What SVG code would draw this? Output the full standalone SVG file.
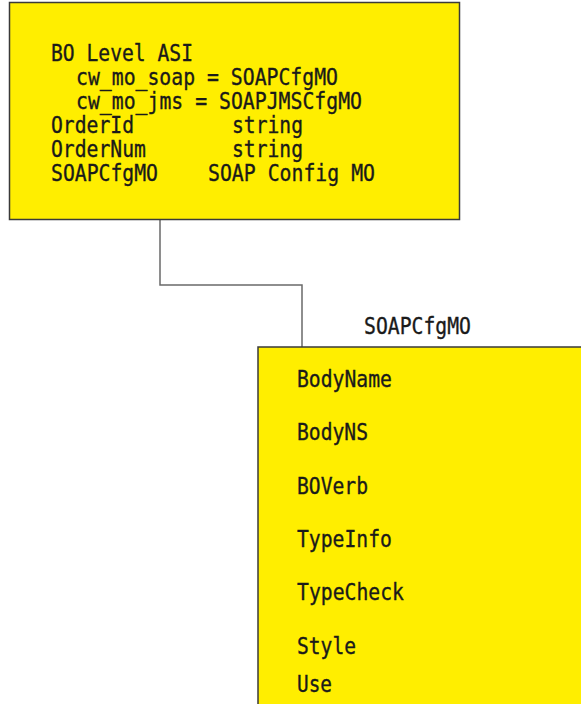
<svg xmlns="http://www.w3.org/2000/svg" width="581" height="704" viewBox="0 0 581 704">
  <style>
    .box { fill: #FFEE00; stroke: #3a3a3a; stroke-width: 1.5; }
    .t { font-family: "DejaVu Sans Mono", "Liberation Mono", monospace; font-size: 23px; fill: #1a1a1a; stroke: #1a1a1a; stroke-width: 0.35; }
    .conn { fill: none; stroke: #6a6a6a; stroke-width: 1.5; }
  </style>

  <!-- connectors -->
  <g id="connectors">
    <polyline class="conn" points="160,220 160,285 302,285 302,348"/>
  </g>

  <!-- application-specific info of the business object -->
  <g id="bo-node">
    <rect class="box" x="9.5" y="2.5" width="450" height="217"/>
    <text class="t" x="51" y="61" textLength="142" lengthAdjust="spacingAndGlyphs">BO Level ASI</text>
    <text class="t" x="76" y="85" textLength="262" lengthAdjust="spacingAndGlyphs">cw_mo_soap = SOAPCfgMO</text>
    <text class="t" x="76" y="109" textLength="286" lengthAdjust="spacingAndGlyphs">cw_mo_jms = SOAPJMSCfgMO</text>
    <text class="t" x="51" y="133" textLength="83" lengthAdjust="spacingAndGlyphs">OrderId</text>
    <text class="t" x="232" y="133" textLength="71" lengthAdjust="spacingAndGlyphs">string</text>
    <text class="t" x="51" y="157" textLength="95" lengthAdjust="spacingAndGlyphs">OrderNum</text>
    <text class="t" x="232" y="157" textLength="71" lengthAdjust="spacingAndGlyphs">string</text>
    <text class="t" x="51" y="181" textLength="107" lengthAdjust="spacingAndGlyphs">SOAPCfgMO</text>
    <text class="t" x="208" y="181" textLength="167" lengthAdjust="spacingAndGlyphs">SOAP Config MO</text>
  </g>

  <!-- SOAP configuration meta-object -->
  <g id="soapcfgmo-node">
    <text class="t" x="364" y="334" textLength="107" lengthAdjust="spacingAndGlyphs">SOAPCfgMO</text>
    <rect class="box" x="258" y="347" width="330" height="370"/>
    <text class="t" x="297" y="387" textLength="95" lengthAdjust="spacingAndGlyphs">BodyName</text>
    <text class="t" x="297" y="440" textLength="71" lengthAdjust="spacingAndGlyphs">BodyNS</text>
    <text class="t" x="297" y="494" textLength="71" lengthAdjust="spacingAndGlyphs">BOVerb</text>
    <text class="t" x="297" y="547" textLength="95" lengthAdjust="spacingAndGlyphs">TypeInfo</text>
    <text class="t" x="297" y="600" textLength="107" lengthAdjust="spacingAndGlyphs">TypeCheck</text>
    <text class="t" x="297" y="654" textLength="59" lengthAdjust="spacingAndGlyphs">Style</text>
    <text class="t" x="297" y="692" textLength="35" lengthAdjust="spacingAndGlyphs">Use</text>
  </g>
</svg>
